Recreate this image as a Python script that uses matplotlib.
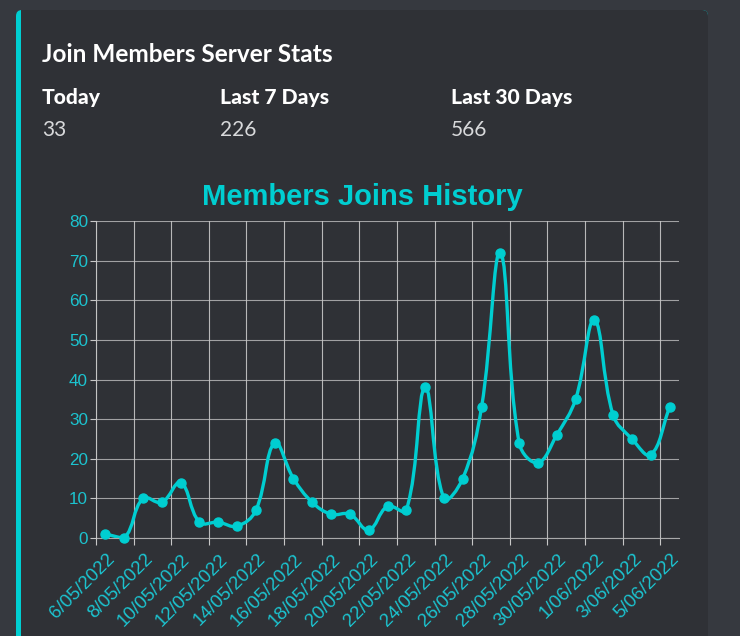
import numpy as np
import matplotlib
matplotlib.use("Agg")
import matplotlib.pyplot as plt
from matplotlib.path import Path
from matplotlib.patches import PathPatch, FancyBboxPatch, Rectangle
from matplotlib.transforms import ScaledTranslation, IdentityTransform

# data
dates = ["6/05/2022", "7/05/2022", "8/05/2022", "9/05/2022", "10/05/2022",
         "11/05/2022", "12/05/2022", "13/05/2022", "14/05/2022", "15/05/2022",
         "16/05/2022", "17/05/2022", "18/05/2022", "19/05/2022", "20/05/2022",
         "21/05/2022", "22/05/2022", "23/05/2022", "24/05/2022", "25/05/2022",
         "26/05/2022", "27/05/2022", "28/05/2022", "29/05/2022", "30/05/2022",
         "31/05/2022", "1/06/2022", "2/06/2022", "3/06/2022", "4/06/2022",
         "5/06/2022"]
joins = [1, 0, 10, 9, 14, 4, 4, 3, 7, 24,
         15, 9, 6, 6, 2, 8, 7, 38, 10, 15,
         33, 72, 24, 19, 26, 35, 55, 31, 25, 21,
         33]
stat_labels = ["Today", "Last 7 Days", "Last 30 Days"]
stat_values = ["33", "226", "566"]

W, H = 740, 636
OUTER = "#36393f"
CARD = "#2f3136"
CYAN = "#00ced1"
TICKC = "#1cc3cf"
GRID = "#c8c8c8"

fig = plt.figure(figsize=(W / 100, H / 100), dpi=100, facecolor=OUTER)


def px(x, y):
    # image pixel (top-left origin) -> figure fraction
    return x / W, 1 - y / H


# card with cyan left edge (behind the axes)
card_kw = dict(transform=IdentityTransform(), edgecolor="none", zorder=-5)
fig.patches.append(FancyBboxPatch((16, -40), 692, 666, boxstyle="round,pad=0,rounding_size=6",
                                  facecolor=CYAN, **card_kw))
fig.patches.append(FancyBboxPatch((21, -40), 687, 666, boxstyle="round,pad=0,rounding_size=6",
                                  facecolor=CARD, **card_kw))
fig.patches.append(Rectangle((21, -40), 600, 666, facecolor=CARD, **card_kw))

# header
fig.text(*px(42, 62), "Join Members Server Stats", color="white", fontsize=17.6,
         fontweight="bold", family="Lato", va="baseline")
for xpos, lab, val in zip([42, 220, 451], stat_labels, stat_values):
    fig.text(*px(xpos, 104), lab, color="white", fontsize=15.2, fontweight="black",
             family="Lato", va="baseline")
    fig.text(*px(xpos, 136), val, color="#d8d9db", fontsize=15, family="Lato",
             va="baseline")

fig.text(*px(362, 205), "Members Joins History", color=CYAN, fontsize=21,
         fontweight="bold", family="Liberation Sans", ha="center", va="baseline")

# chart area
ax = fig.add_axes([96 / W, 1 - 538 / H, (679 - 96) / W, (538 - 221) / H])
ax.set_facecolor("none")
x = np.arange(len(joins))
y = np.array(joins, dtype=float)
ax.set_xlim(-0.5, len(joins) - 0.5)
ax.set_ylim(0, 80)

for s in ["top", "right"]:
    ax.spines[s].set_visible(False)
for s in ["left", "bottom"]:
    ax.spines[s].set_color(GRID)
    ax.spines[s].set_linewidth(0.8)
    ax.spines[s].set_alpha(0.8)

ax.set_yticks(np.arange(0, 81, 10))
ax.tick_params(axis="y", colors=GRID, labelcolor=TICKC, length=4.3, width=0.8, pad=1.5,
               labelsize=12.3)
ax.yaxis.grid(True, color=GRID, linewidth=0.8, alpha=0.75)

ax.set_xticks(x[::2])
ax.set_xticklabels(dates[::2], rotation=45, ha="right", va="center", rotation_mode="anchor",
                   fontsize=13.5, color=TICKC)
ax.set_xticks(np.arange(-0.5, len(joins), 2), minor=True)
ax.tick_params(axis="x", which="major", length=0, pad=13.4)
ax.tick_params(axis="x", which="minor", length=5, width=0.8, color=GRID)
ax.xaxis.grid(True, which="minor", color=GRID, linewidth=0.8, alpha=0.9)
for lab in ax.get_xticklabels() + ax.get_yticklabels():
    lab.set_family("Liberation Sans")
off = ScaledTranslation(7 / 100, 0, fig.dpi_scale_trans)
for lab in ax.get_xticklabels():
    lab.set_transform(lab.get_transform() + off)

# chart.js style smoothed line (tension 0.4), control points in pixel space
tension = 0.4
P = ax.transData.transform(np.column_stack([x, y]))
n = len(P)
cp_prev = P.copy()
cp_next = P.copy()
for i in range(n):
    a = P[max(i - 1, 0)]
    b = P[i]
    c = P[min(i + 1, n - 1)]
    d01 = np.hypot(*(b - a))
    d12 = np.hypot(*(c - b))
    tot = d01 + d12
    s01 = d01 / tot if tot else 0
    s12 = d12 / tot if tot else 0
    cp_prev[i] = b - tension * s01 * (c - a)
    cp_next[i] = b + tension * s12 * (c - a)
inv = ax.transData.inverted()
cp_prev = inv.transform(cp_prev)
cp_next = inv.transform(cp_next)
cp_prev[:, 1] = np.clip(cp_prev[:, 1], 0, 80)
cp_next[:, 1] = np.clip(cp_next[:, 1], 0, 80)

verts = [(x[0], y[0])]
codes = [Path.MOVETO]
for i in range(n - 1):
    verts += [tuple(cp_next[i]), tuple(cp_prev[i + 1]), (x[i + 1], y[i + 1])]
    codes += [Path.CURVE4] * 3
ax.add_patch(PathPatch(Path(verts, codes), facecolor="none", edgecolor=CYAN,
                       linewidth=2.4, capstyle="round", joinstyle="round", zorder=3))
ax.plot(x, y, "o", color=CYAN, markersize=6.5, zorder=4, clip_on=False)

fig.savefig("out.png", dpi=100, facecolor=OUTER)
